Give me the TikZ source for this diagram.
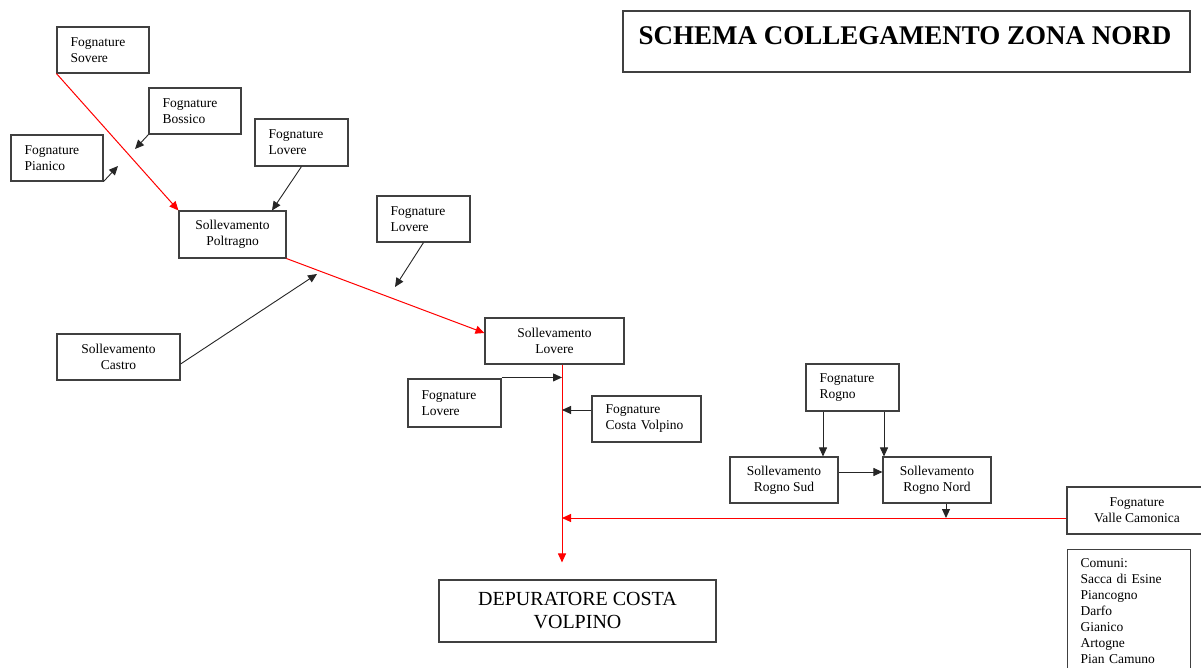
\documentclass[tikz,border=0pt]{standalone}
\usepackage{fontspec}
\setmainfont{Liberation Serif}
\usetikzlibrary{arrows.meta}
\tikzset{
  box/.style={draw=black!75, line width=1.1pt, rectangle, inner ysep=2pt,
    font=\fontsize{13.5}{16}\selectfont},
  lbox/.style={box, align=left, inner xsep=13.5pt},
  cbox/.style={box, align=center, inner xsep=4pt},
  arr/.style={draw=black!85, line width=0.9pt, -{Triangle[length=9pt,width=8pt]}},
  rarr/.style={draw=red, line width=1pt, -{Triangle[length=9pt,width=8pt]}},
  rline/.style={draw=red, line width=1pt},
}
\begin{document}
\begin{tikzpicture}[x=1pt,y=-1pt]
\useasboundingbox (0,0) rectangle (1201,668);
\fill[white] (0,0) rectangle (1201,668);

% title
\node[draw=black!75, line width=1.1pt, minimum width=567pt, minimum height=61pt] (titlebox) at (906.5,41.5) {};
\node[font=\fontsize{27}{30}\selectfont\bfseries, anchor=base, inner sep=0pt] (title) at (905,45) {SCHEMA COLLEGAMENTO ZONA NORD};

% boxes
\node[lbox, text width=65pt, minimum height=46pt] (sovere) at (103,50) {Fognature\\Sovere};
\node[lbox, text width=65pt, minimum height=46pt] (bossico) at (195,111) {Fognature\\Bossico};
\node[lbox, text width=65pt, minimum height=46pt] (pianico) at (57,158) {Fognature\\Pianico};
\node[lbox, text width=66pt, minimum height=47pt] (lovereA) at (301.5,142.5) {Fognature\\Lovere};
\node[cbox, minimum width=107pt, minimum height=47pt] (poltragno) at (232.5,234.5) {Sollevamento\\Poltragno};
\node[lbox, text width=66pt, minimum height=46pt] (lovereB) at (423.5,219) {Fognature\\Lovere};
\node[cbox, minimum width=123pt, minimum height=46pt] (castro) at (118.5,357) {Sollevamento\\Castro};
\node[cbox, minimum width=139pt, minimum height=46pt] (sollovere) at (554.5,341) {Sollevamento\\Lovere};
\node[lbox, text width=66pt, minimum height=48pt] (lovereC) at (454.5,403) {Fognature\\Lovere};
\node[lbox, text width=82pt, minimum height=46pt] (costa) at (646.5,419) {Fognature\\Costa Volpino};
\node[lbox, text width=66pt, minimum height=47pt] (rogno) at (852.5,387.5) {Fognature\\Rogno};
\node[cbox, minimum width=108pt, minimum height=46pt] (rognosud) at (784,480) {Sollevamento\\Rogno Sud};
\node[cbox, minimum width=108pt, minimum height=46pt] (rognonord) at (937,480) {Sollevamento\\Rogno Nord};
\node[cbox, minimum width=140pt, minimum height=47pt] (valle) at (1137,510.5) {Fognature\\Valle Camonica};
\node[lbox, anchor=north west, text width=97pt, inner xsep=13pt, inner ysep=9pt] (comuni) at (1067,549)
  {Comuni:\\Sacca di Esine\\Piancogno\\Darfo\\Gianico\\Artogne\\Pian Camuno\\[14pt]};
\node[box, font=\fontsize{20}{23}\selectfont, align=center, minimum width=277pt, minimum height=62pt] (dep) at (577.5,611) {DEPURATORE COSTA\\VOLPINO};

% free ends
\coordinate (bossicoEnd) at (135,149);
\coordinate (pianicoEnd) at (118,166);
\coordinate (lovereBEnd) at (395,287);
\coordinate (castroEnd) at (317,274);

% trunk line (red)
\coordinate (trunkTop) at ([xshift=7.5pt]sollovere.south);
\coordinate (trunkBot) at ([xshift=-15.5pt]dep.north);
\coordinate (valleOut) at ([yshift=-7.5pt]valle.west);

% red connectors
\draw[rarr] (sovere.south west) -- (poltragno.north west);
\draw[rarr] (poltragno.south east) -- ([yshift=8pt]sollovere.west);
\draw[rarr, shorten >=17pt] (trunkTop) -- (trunkBot);
\draw[rarr] (valleOut) -- (valleOut -| trunkTop);

% black connectors
\draw[arr] (bossico.south west) -- (bossicoEnd);
\draw[arr] (pianico.south east) -- (pianicoEnd);
\draw[arr] (lovereA.south) -- ([xshift=39.5pt]poltragno.north);
\draw[arr] (lovereB.south) -- (lovereBEnd);
\draw[arr] ([yshift=-7pt]castro.east) -- (castroEnd);
\draw[arr] ([yshift=1pt]lovereC.north east) -- ([yshift=1pt]lovereC.north east -| trunkTop);
\draw[arr] ([yshift=9pt]costa.west) -- ([yshift=9pt]costa.west -| trunkTop);

\coordinate (r1) at ([xshift=-29.5pt]rogno.south);
\coordinate (r2) at ([xshift=31.5pt]rogno.south);
\draw[arr] (r1) -- (r1 |- rognosud.north);
\draw[arr] (r2) -- (r2 |- rognonord.north);
\draw[arr] ([yshift=8pt]rognosud.east) -- ([yshift=8pt]rognonord.west);
\coordinate (rn) at ([xshift=9pt]rognonord.south);
\draw[arr] (rn) -- (rn |- valleOut);
\end{tikzpicture}
\end{document}
